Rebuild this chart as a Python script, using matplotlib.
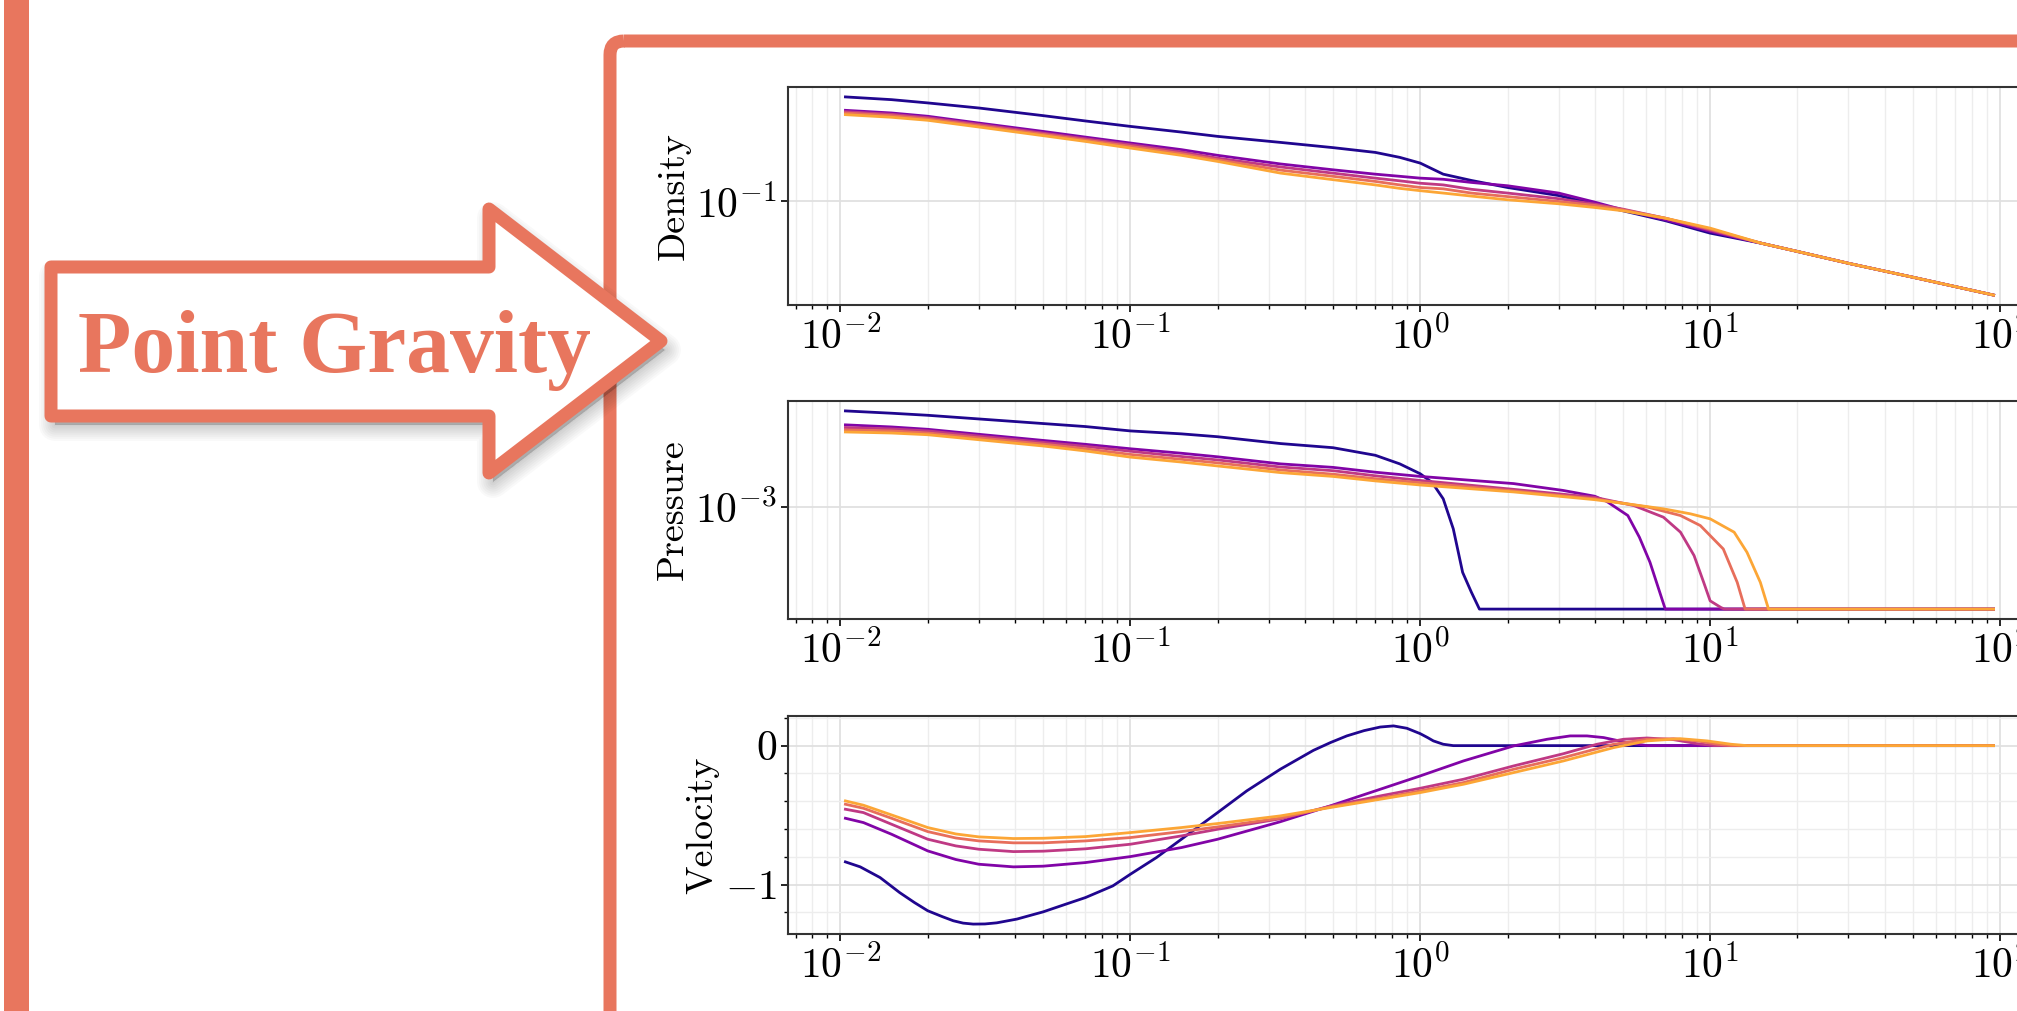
import numpy as np
import matplotlib
matplotlib.use('Agg')
import matplotlib.pyplot as plt
from matplotlib.patches import Polygon, Rectangle, FancyBboxPatch
from matplotlib.ticker import MultipleLocator, NullLocator, LogLocator

plt.rcParams['font.family'] = 'serif'
plt.rcParams['font.serif'] = ['cmr10']
plt.rcParams['mathtext.fontset'] = 'cm'
plt.rcParams['axes.formatter.use_mathtext'] = True

# density, shared radius grid
r_rho = [0.0104, 0.015, 0.02, 0.03, 0.05, 0.07, 0.1, 0.15, 0.2, 0.33, 0.5, 0.7, 0.85,
         1.0, 1.2, 1.5, 2, 3, 4, 5, 7, 10, 15, 20, 30, 50, 95]
rho_0 = [0.635, 0.605, 0.571, 0.522, 0.456, 0.415, 0.377, 0.341, 0.316, 0.284, 0.259, 0.238, 0.218,
         0.197, 0.162, 0.145, 0.128, 0.111, 0.0954, 0.0848, 0.0712, 0.0571, 0.0478, 0.0413, 0.0335, 0.0262, 0.0191]
rho_1 = [0.501, 0.478, 0.451, 0.400, 0.345, 0.312, 0.281, 0.250, 0.226, 0.194, 0.175, 0.162, 0.156,
         0.151, 0.148, 0.140, 0.132, 0.116, 0.0988, 0.0863, 0.0723, 0.0588, 0.0478, 0.0413, 0.0335, 0.0262, 0.0191]
rho_2 = [0.489, 0.467, 0.440, 0.391, 0.335, 0.303, 0.273, 0.240, 0.215, 0.184, 0.165, 0.151, 0.144,
         0.138, 0.134, 0.124, 0.116, 0.105, 0.0954, 0.0873, 0.0744, 0.0602, 0.0478, 0.0413, 0.0335, 0.0262, 0.0191]
rho_3 = [0.478, 0.456, 0.430, 0.382, 0.328, 0.296, 0.265, 0.233, 0.209, 0.174, 0.156, 0.1425, 0.134,
         0.128, 0.125, 0.116, 0.109, 0.100, 0.0932, 0.0863, 0.0744, 0.0613, 0.0478, 0.0413, 0.0335, 0.0262, 0.0191]
rho_4 = [0.464, 0.443, 0.420, 0.373, 0.320, 0.289, 0.257, 0.226, 0.203, 0.165, 0.147, 0.134, 0.126,
         0.121, 0.116, 0.110, 0.103, 0.0960, 0.0899, 0.0848, 0.0744, 0.0624, 0.0478, 0.0413, 0.0335, 0.0262, 0.0191]

# pressure
p_r0 = [0.0104, 0.015, 0.02, 0.03, 0.05, 0.07, 0.1, 0.15, 0.2, 0.33, 0.5, 0.7, 0.85, 1.0, 1.1, 1.2,
        1.3, 1.4, 1.5, 1.6, 95]
p_0 = [4.32e-3, 4.17e-3, 4.04e-3, 3.82e-3, 3.56e-3, 3.40e-3, 3.18e-3, 3.04e-3, 2.91e-3, 2.62e-3, 2.46e-3,
       2.19e-3, 1.92e-3, 1.65e-3, 1.44e-3, 1.125e-3, 7.1e-4, 3.65e-4, 2.7e-4, 2.08e-4, 2.08e-4]
p_r1 = [0.0104, 0.015, 0.02, 0.03, 0.05, 0.07, 0.1, 0.15, 0.2, 0.33, 0.5, 0.7, 1.0, 2.1, 3.1, 4.0,
        4.4, 5.2, 5.7, 6.2, 7.0, 95]
p_1 = [3.49e-3, 3.38e-3, 3.26e-3, 3.02e-3, 2.75e-3, 2.59e-3, 2.42e-3, 2.26e-3, 2.14e-3, 1.92e-3, 1.82e-3,
       1.69e-3, 1.585e-3, 1.42e-3, 1.28e-3, 1.17e-3, 1.08e-3, 8.71e-4, 6.25e-4, 4.26e-4, 2.08e-4, 2.08e-4]
p_r2 = [0.0104, 0.015, 0.02, 0.03, 0.05, 0.07, 0.1, 0.15, 0.2, 0.33, 0.5, 0.7, 1.0, 2.1, 4.0, 5.45,
        6.9, 7.9, 8.8, 9.5, 10.0, 10.9, 11.2, 95]
p_2 = [3.35e-3, 3.28e-3, 3.18e-3, 2.94e-3, 2.67e-3, 2.51e-3, 2.33e-3, 2.15e-3, 2.04e-3, 1.83e-3, 1.73e-3,
       1.60e-3, 1.49e-3, 1.30e-3, 1.15e-3, 1.015e-3, 8.49e-4, 6.75e-4, 4.72e-4, 3.13e-4, 2.36e-4, 2.13e-4,
       2.08e-4, 2.08e-4]
p_r3 = [0.0104, 0.015, 0.02, 0.03, 0.05, 0.07, 0.1, 0.15, 0.2, 0.33, 0.5, 0.7, 1.0, 2.1, 4.0, 6.1,
        7.9, 9.25, 11.1, 12.4, 13.2, 95]
p_3 = [3.23e-3, 3.18e-3, 3.08e-3, 2.86e-3, 2.60e-3, 2.42e-3, 2.22e-3, 2.06e-3, 1.95e-3, 1.75e-3, 1.64e-3,
       1.53e-3, 1.44e-3, 1.27e-3, 1.125e-3, 9.9e-4, 8.71e-4, 7.47e-4, 5.22e-4, 3.13e-4, 2.08e-4, 2.08e-4]
p_r4 = [0.0104, 0.015, 0.02, 0.03, 0.05, 0.07, 0.1, 0.15, 0.2, 0.33, 0.5, 0.7, 1.0, 2.1, 4.0, 5.2,
        6.9, 8.55, 10.0, 12.1, 13.4, 14.9, 15.9, 95]
p_4 = [3.13e-3, 3.08e-3, 3.00e-3, 2.78e-3, 2.525e-3, 2.34e-3, 2.13e-3, 1.975e-3, 1.86e-3, 1.68e-3, 1.585e-3,
       1.48e-3, 1.39e-3, 1.25e-3, 1.11e-3, 1.04e-3, 9.65e-4, 8.94e-4, 8.28e-4, 6.75e-4, 4.96e-4, 3.13e-4,
       2.08e-4, 2.08e-4]

# velocity
v_r0 = [0.0104, 0.0117, 0.0137, 0.016, 0.018, 0.020, 0.0225, 0.0245, 0.0265, 0.0287, 0.0315, 0.0346,
        0.0406, 0.050, 0.060, 0.070, 0.087, 0.100, 0.123, 0.150, 0.200, 0.252, 0.329, 0.428, 0.49, 0.558,
        0.64, 0.728, 0.809, 0.899, 1.0, 1.06, 1.11, 1.20, 1.30, 95]
v_0 = [-0.837, -0.873, -0.950, -1.058, -1.130, -1.189, -1.232, -1.261, -1.278, -1.285, -1.284, -1.276,
       -1.249, -1.197, -1.141, -1.094, -1.010, -0.926, -0.806, -0.674, -0.482, -0.326, -0.170, -0.034,
       0.022, 0.070, 0.108, 0.134, 0.142, 0.125, 0.086, 0.058, 0.034, 0.010, 0.0, 0.0]
v_r1 = [0.0104, 0.012, 0.015, 0.020, 0.025, 0.030, 0.0395, 0.050, 0.070, 0.100, 0.150, 0.200, 0.329,
        0.489, 0.728, 1.0, 1.41, 2.10, 2.74, 3.29, 3.76, 4.29, 5.17, 6.06, 95]
v_1 = [-0.523, -0.554, -0.638, -0.758, -0.820, -0.854, -0.873, -0.868, -0.842, -0.799, -0.734, -0.674,
       -0.548, -0.434, -0.314, -0.218, -0.110, -0.002, 0.046, 0.070, 0.070, 0.058, 0.022, 0.0, 0.0]
v_r2 = [0.0104, 0.012, 0.015, 0.020, 0.025, 0.030, 0.0395, 0.050, 0.070, 0.100, 0.150, 0.200, 0.329,
        0.489, 0.728, 1.0, 1.41, 2.10, 3.12, 4.07, 5.03, 6.06, 7.48, 9.02, 10.3, 95]
v_2 = [-0.458, -0.482, -0.566, -0.674, -0.722, -0.746, -0.763, -0.760, -0.743, -0.710, -0.650, -0.602,
       -0.527, -0.436, -0.362, -0.307, -0.242, -0.146, -0.058, 0.010, 0.046, 0.055, 0.043, 0.014, 0.0, 0.0]
v_r3 = [0.0104, 0.012, 0.015, 0.020, 0.025, 0.030, 0.0395, 0.050, 0.070, 0.100, 0.150, 0.200, 0.329,
        0.489, 0.728, 1.0, 1.41, 2.10, 3.12, 4.65, 6.06, 7.48, 9.02, 10.6, 11.8, 95]
v_3 = [-0.422, -0.451, -0.523, -0.619, -0.665, -0.686, -0.700, -0.700, -0.686, -0.662, -0.619, -0.585,
       -0.522, -0.441, -0.379, -0.326, -0.266, -0.170, -0.086, 0.010, 0.046, 0.050, 0.034, 0.010, 0.0, 0.0]
v_r4 = [0.0104, 0.012, 0.015, 0.020, 0.025, 0.030, 0.0395, 0.050, 0.070, 0.100, 0.150, 0.200, 0.329,
        0.489, 0.728, 1.0, 1.41, 2.10, 3.12, 4.65, 6.06, 7.89, 9.76, 11.8, 13.4, 95]
v_4 = [-0.398, -0.429, -0.499, -0.590, -0.636, -0.657, -0.669, -0.667, -0.655, -0.626, -0.590, -0.561,
       -0.506, -0.446, -0.386, -0.338, -0.278, -0.194, -0.110, -0.014, 0.034, 0.050, 0.034, 0.010, 0.0, 0.0]

ORANGE = '#e8765e'
colors = plt.cm.plasma([0.03, 0.26, 0.45, 0.63, 0.8])

W, H = 2017, 1011
fig = plt.figure(figsize=(W / 100, H / 100), dpi=100)


def panel(top, bottom):
    return fig.add_axes([788 / W, 1 - bottom / H, 1263 / W, (bottom - top) / H])


def style(ax, ylabel, logy):
    ax.set_xscale('log')
    ax.xaxis.set_major_locator(LogLocator(base=10, numticks=20))
    ax.xaxis.set_minor_locator(LogLocator(base=10, subs=np.arange(2, 10), numticks=20))
    if logy:
        ax.set_yscale('log')
        ax.yaxis.set_minor_locator(NullLocator())
    else:
        ax.yaxis.set_major_locator(MultipleLocator(1))
        ax.yaxis.set_minor_locator(MultipleLocator(0.2))
    ax.grid(which='major', color='0.88', lw=1.3)
    ax.grid(which='minor', color='0.93', lw=1.0)
    ax.set_axisbelow(True)
    for s in ax.spines.values():
        s.set_linewidth(1.5)
        s.set_color('0.2')
    ax.tick_params(which='major', labelsize=30, length=5, width=1.2, pad=3)
    ax.tick_params(which='minor', length=3, width=1.0)
    ax.set_ylabel(ylabel, fontsize=27.5)


ax1 = panel(87, 305)
for r, y, c in zip([r_rho] * 5, [rho_0, rho_1, rho_2, rho_3, rho_4], colors):
    ax1.plot(r, y, color=c, lw=2.0)
style(ax1, 'Density', True)

ax2 = panel(401, 619)
for r, y, c in zip([p_r0, p_r1, p_r2, p_r3, p_r4], [p_0, p_1, p_2, p_3, p_4], colors):
    ax2.plot(r, y, color=c, lw=2.0)
style(ax2, 'Pressure', True)

ax3 = panel(716, 934)
for r, y, c in zip([v_r0, v_r1, v_r2, v_r3, v_r4], [v_0, v_1, v_2, v_3, v_4], colors):
    ax3.plot(r, y, color=c, lw=2.0)
style(ax3, 'Velocity', False)

# decorations: frame, side bar, arrow with label
ov = fig.add_axes([0, 0, 1, 1], zorder=10)
ov.set_xlim(0, W)
ov.set_ylim(H, 0)
ov.axis('off')

ov.add_patch(Rectangle((4, -20), 25, H + 40, color=ORANGE, lw=0))
ov.add_patch(FancyBboxPatch((610, 41), 3000, 3000, boxstyle='round,pad=0,rounding_size=14',
                            fill=False, ec=ORANGE, lw=13 * 0.72))

arrow = [(51, 267), (489, 267), (489, 209), (661, 341), (489, 473), (489, 416), (51, 416)]
for k in range(8):
    sh = [(x + 4, y + 9) for x, y in arrow]
    ov.add_patch(Polygon(sh, closed=True, fc=(0, 0, 0, 0.025), ec=(0, 0, 0, 0.025),
                         lw=2 + 3 * k, joinstyle='round'))
ov.add_patch(Polygon(arrow, closed=True, fc='white', ec=ORANGE, lw=13 * 0.72, joinstyle='round'))
ov.text(334, 372, 'Point Gravity', ha='center', va='baseline', fontsize=63,
        fontweight='bold', family='Liberation Serif', color=ORANGE)

fig.savefig('out.png', dpi=100)
